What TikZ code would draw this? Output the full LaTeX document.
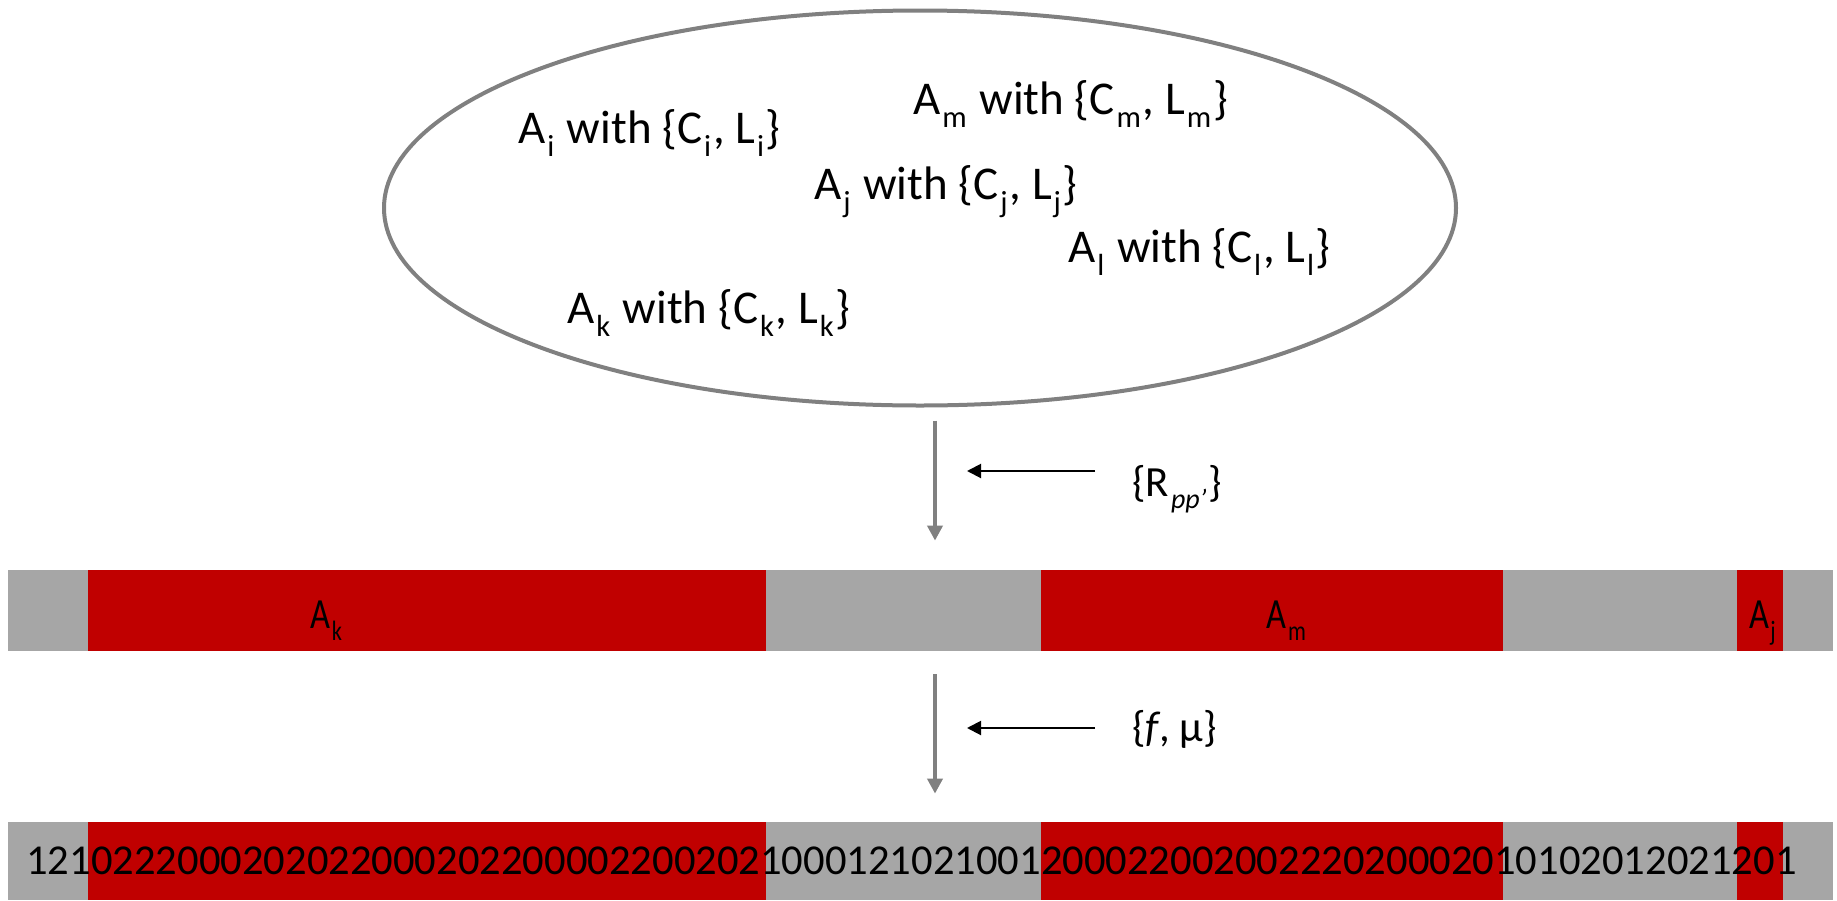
\documentclass[tikz,border=0pt]{standalone}
\usepackage{fontspec}
\setmainfont{Carlito}
\usepackage{graphicx}
\usepackage{xcolor}
\definecolor{segRed}{RGB}{192,0,0}
\definecolor{barGray}{RGB}{166,166,166}
\definecolor{lineGray}{RGB}{128,128,128}
\newcommand{\lo}[1]{\kern0.04em\raisebox{-0.28em}{\scalebox{0.65}{#1}}\kern0.04em\relax}
\usetikzlibrary{arrows.meta, positioning, calc, shapes.geometric}

\begin{document}
\begin{tikzpicture}[x=0.5pt, y=-0.5pt,
		bar/.style={fill=barGray, inner sep=0pt, minimum width=912.5pt},
		redseg/.style={fill=segRed, inner sep=0pt},
		item/.style={anchor=base west, inner sep=0pt, font=\fontsize{23.5}{28}\selectfont},
		seglab/.style={anchor=base, inner sep=0pt, font=\fontsize{21.5}{25}\selectfont},
		digits/.style={anchor=base west, inner sep=0pt, font=\fontsize{21.29}{26}\selectfont},
		param/.style={anchor=base west, inner sep=0pt, font=\fontsize{21.5}{25}\selectfont},
		flow/.style={-{Triangle[length=7.5pt,width=7.5pt]}, line width=2pt, lineGray},
		feed/.style={-{Triangle[length=7pt,width=7pt]}, line width=1pt, black},
		>=Stealth
	]
	\useasboundingbox (0,0) rectangle (1837,900);

	% ===== Pool of annotations =====
	\node[ellipse, draw=lineGray, line width=2pt, inner sep=0pt,
		minimum width=536pt, minimum height=197.5pt] (pool) at (920,208) {};
	\node[item] (ai) at (518,143) {A\lo{i} with \{C\lo{i}, L\lo{i}\}};
	\node[item] (am) at (913,114) {A\lo{m} with \{C\lo{m}, L\lo{m}\}};
	\node[item] (aj) at (814,199) {A\lo{j} with \{C\lo{j}, L\lo{j}\}};
	\node[item] (al) at (1068,262) {A\lo{l} with \{C\lo{l}, L\lo{l}\}};
	\node[item] (ak) at (567,323) {A\lo{k} with \{C\lo{k}, L\lo{k}\}};

	% ===== Placed annotations =====
	\node[bar, minimum height=40.5pt] (bar1) at (920.5,610.5) {};
	\node[redseg, minimum width=339pt, minimum height=40.5pt] (segk) at (427,610.5) {};
	\node[redseg, minimum width=231pt, minimum height=40.5pt] (segm) at (1272,610.5) {};
	\node[redseg, minimum width=23pt, minimum height=40.5pt] (segj) at (1760,610.5) {};
	\node[seglab] (lk) at (327,628) {\scalebox{0.8}[1]{A\lo{k}}};
	\node[seglab] (lm) at (1287,628) {\scalebox{0.8}[1]{A\lo{m}}};
	\node[seglab] (lj) at (1763,628) {\scalebox{0.8}[1]{A\lo{j}}};

	% ===== Sampled sequence =====
	\node[bar, minimum height=39pt] (bar2) at (920.5,861) {};
	\node[redseg, minimum width=339pt, minimum height=39pt] (dk) at (427,861) {};
	\node[redseg, minimum width=231pt, minimum height=39pt] (dm) at (1272,861) {};
	\node[redseg, minimum width=23pt, minimum height=39pt] (dj) at (1760,861) {};
	\node[digits] (seq) at (26,874)
		{1210222000202022000202200002200202100012102100120002200200222020002010102012021201};

	% ===== Steps between the rows =====
	\draw[flow] ([xshift=7.5pt,yshift=-6.5pt]pool.south) -- ([xshift=7.25pt,yshift=14.5pt]bar1.north);
	\draw[flow] ([xshift=7.25pt,yshift=-11.5pt]bar1.south) -- ([xshift=7.25pt,yshift=14pt]bar2.north);

	\node[param] (rp) at (1132,496) {\{R\lo{\itshape pp’}\}};
	\coordinate (rtip) at (967,471);
	\draw[feed, shorten <=18.5pt] (rp.west |- rtip) -- (rtip);

	\node[param] (fm) at (1132,741) {\{\textit{f}, μ\}};
	\coordinate (ftip) at (967,728);
	\draw[feed, shorten <=18.5pt] (fm.west |- ftip) -- (ftip);
\end{tikzpicture}
\end{document}
